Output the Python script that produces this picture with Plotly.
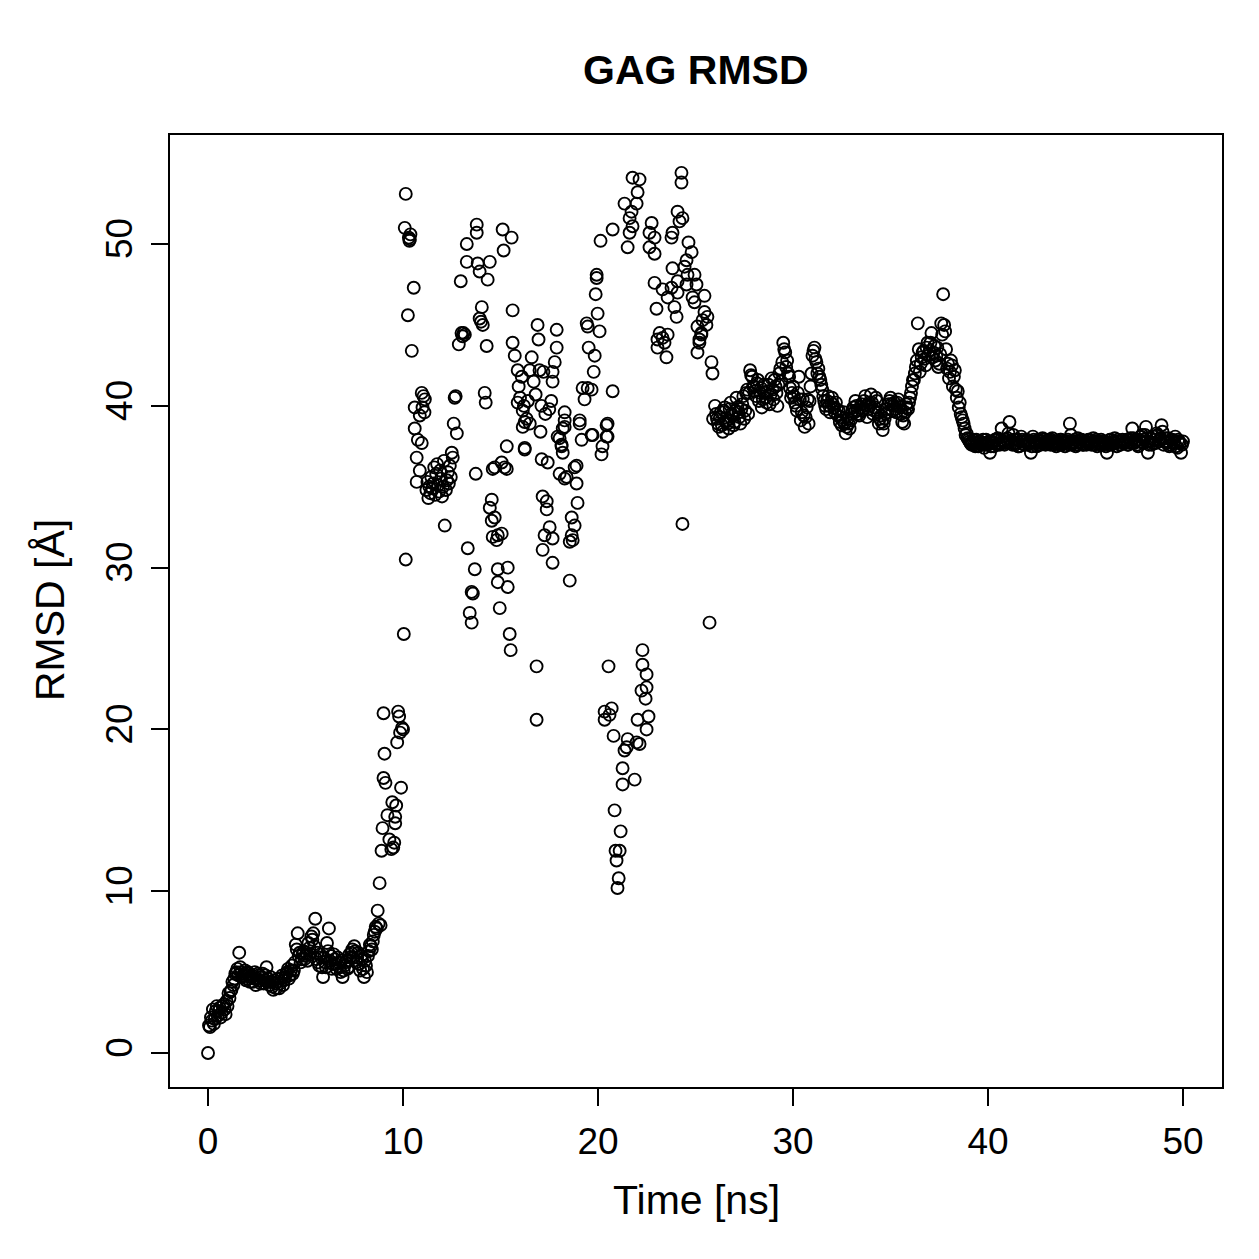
import numpy as np
import plotly.graph_objects as go

# ---- Data ----
# Segment 1: 0.0 .. 8.9 ns, frames on the 0.1 ns grid
seg1_rmsd = [
    0.0, 1.6, 2.0, 1.8, 2.6, 2.3, 2.8, 2.5, 3.0, 2.4,
    2.9, 3.4, 3.9, 4.2, 4.9, 5.2, 6.2, 5.0, 4.8, 5.1,
    4.6, 4.9, 4.7, 4.4, 5.0, 4.6, 4.8, 4.3, 4.9, 4.5,
    5.3, 4.4, 4.7, 4.1, 4.5, 4.0, 4.6, 4.3, 4.8, 4.5,
    4.9, 5.2, 4.8, 5.4, 5.1, 6.7, 7.4, 6.2, 5.8, 6.3,
    6.0, 5.7, 6.5, 7.2, 7.4, 8.3, 6.2, 5.4, 5.9, 4.7,
    5.6, 6.8, 7.7, 6.0, 5.5, 5.8, 5.2, 5.6, 5.0, 4.7,
    5.4, 5.7, 5.3, 5.9, 6.4, 6.6, 5.6, 6.2, 5.1, 5.8,
    4.7, 5.4, 6.0, 6.7, 6.4, 7.3, 7.8, 8.8, 10.5, 12.5,
]
seg1_time = [round(0.1 * i, 2) for i in range(len(seg1_rmsd))]

# Segment 1b: frames in between (0.05 .. 8.85 ns)
seg1b_rmsd = [
    1.7, 2.2, 2.7, 2.1, 2.9, 2.6, 2.2, 2.9, 2.7, 3.2,
    3.7, 3.8, 4.4, 4.6, 5.0, 4.8, 5.3, 4.7, 4.9, 4.5,
    5.0, 4.4, 4.8, 4.6, 4.2, 4.9, 4.5, 4.7, 4.3, 4.8,
    4.6, 4.2, 4.4, 3.9, 4.3, 4.4, 4.0, 4.6, 4.2, 4.7,
    5.0, 4.6, 5.1, 4.9, 5.6, 6.4, 6.0, 5.6, 6.1, 5.8,
    6.2, 6.8, 6.1, 7.0, 6.6, 5.8, 5.6, 6.1, 5.3, 5.9,
    5.3, 6.3, 5.7, 5.2, 6.1, 5.5, 5.9, 5.3, 5.7, 5.1,
    5.6, 5.2, 6.1, 6.2, 5.9, 6.3, 5.9, 5.5, 6.0, 5.2,
    5.7, 5.0, 6.3, 6.6, 6.9, 7.5, 7.7, 8.0, 7.9,
]
seg1b_time = [round(0.05 + 0.1 * i, 2) for i in range(len(seg1b_rmsd))]

# Segment 2: scattered region (explicit time / RMSD pairs)
seg2_time = [
    9.0, 9.05, 9.0, 9.1, 9.2, 9.3, 9.45, 9.5, 9.6, 9.6, 9.65, 9.7, 9.75, 9.8, 9.9, 9.95, 8.95, 9.4, 9.55, 9.85, 10.0,
    10.04, 10.14, 10.09, 10.14, 10.3, 10.35, 10.38, 10.33, 10.25, 10.45, 10.55, 10.6, 10.6, 10.76, 10.96, 10.7, 10.7,
    10.86, 10.96, 11.12, 11.0, 10.86, 11.05, 11.1,
    11.2, 11.25, 11.3, 11.35, 11.4, 11.45, 11.5, 11.55, 11.6, 11.65, 11.7, 11.75, 11.8, 11.85, 11.9, 11.95, 12.0,
    12.05, 12.1, 12.14, 12.2, 12.25, 12.3, 12.35, 12.4, 12.45, 12.5, 12.55, 12.6, 12.65, 12.7, 12.76, 12.86, 12.96,
    13.0, 13.05, 13.1, 13.17,
    13.27, 13.27, 13.32, 13.42, 13.52, 13.52, 13.58, 13.68, 13.73, 13.78, 13.78, 13.83, 13.93, 13.93, 14.04, 14.09,
    14.0, 14.19, 14.24, 14.29, 14.34, 14.45,
    14.45, 14.55, 14.6, 14.55, 14.7, 14.7, 14.6, 14.8, 14.86, 14.86, 14.86, 14.96, 15.06, 15.06, 15.11, 15.16, 15.21,
    15.32, 15.32, 15.37, 15.37,
    15.47, 15.52, 15.57, 15.62, 15.62, 15.73, 15.88, 16.09, 15.93, 15.88, 16.14, 16.34, 16.14, 16.24, 16.24, 16.24,
    16.0, 16.2, 16.4, 16.5,
    16.5, 16.6, 16.7, 16.8, 16.9, 16.95, 17.0, 17.05, 16.85, 16.85, 17.11, 17.16, 17.16, 17.26, 17.37, 17.37, 17.42,
    17.52, 17.67, 17.67, 17.1, 17.2, 17.3,
    17.88, 17.88, 17.78, 17.67, 17.67, 17.5, 17.6,
    18.03, 18.13, 18.19, 18.29, 18.29, 18.29, 18.19, 17.93, 18.13, 18.39, 18.03, 18.29, 18.8, 18.9, 18.9, 18.95,
    18.65, 18.8, 18.65, 18.55, 18.7, 18.55, 19.06, 19.06, 19.16,
    19.21, 19.31, 19.47, 19.67, 19.42, 19.47, 19.52, 19.67, 19.72, 19.78, 19.83, 19.88, 19.93, 19.93, 19.98, 20.08,
    20.13, 20.18, 20.23, 20.44, 20.44, 20.49, 20.49, 20.34, 20.34, 20.54, 20.59, 20.7, 20.75, 20.75, 20.8, 20.85,
    20.9, 20.95, 21.0, 21.06, 21.11, 21.16,
    21.26, 21.26, 21.36, 21.47, 21.52, 21.36, 21.52, 21.62, 21.62, 21.72, 21.77, 21.77, 21.88, 21.98, 21.98, 22.03,
    22.03, 22.13, 22.13, 22.23, 22.28, 22.28, 22.44, 22.49, 22.49, 22.49, 22.59, 22.64, 22.64, 22.75, 22.9, 22.9,
    22.9,
    23.0, 23.05, 23.05, 23.16, 23.31, 23.31, 23.41, 23.51, 23.57, 23.57, 23.77, 23.77, 23.82, 23.82, 23.92, 24.03,
    24.08, 24.08, 24.08, 24.18, 24.28, 24.28, 24.33, 24.33, 24.44, 24.54, 24.54, 24.59, 24.64, 24.8, 24.85, 24.95,
    24.95,
    25.05, 25.1, 25.1, 25.2, 25.2, 25.3, 25.3, 25.36, 25.46, 25.46, 25.56, 25.61, 25.72, 25.82, 25.87, 25.9,
]
seg2_rmsd = [
    21.0, 18.5, 17.0, 16.7, 14.7, 13.2, 15.5, 12.7, 14.6, 14.2, 15.3, 19.2, 21.1, 20.8, 16.4, 20.1, 13.9, 12.6, 13.0, 19.8, 20.0,
    25.9, 30.5, 51.0, 53.1, 50.4, 50.3, 50.6, 50.2, 45.6, 43.4, 47.3, 39.9, 38.6, 37.9, 37.7, 36.8, 35.3,
    36.0, 40.8, 40.4, 39.9, 39.4, 40.6, 39.6,
    34.8, 35.3, 34.3, 35.0, 34.6, 35.6, 34.9, 35.2, 36.2, 34.5, 35.8, 36.4, 35.1, 34.7, 36.0, 35.5, 34.4,
    35.0, 36.6, 32.6, 34.8, 35.4, 35.9, 35.2, 36.3, 35.6, 37.1, 36.8, 38.9, 40.5, 40.6, 38.3, 43.8, 47.7,
    44.5, 44.3, 44.5, 44.4,
    50.0, 48.9, 31.2, 27.2, 26.6, 28.5, 28.4, 29.9, 35.8, 51.2, 50.7, 48.8, 48.3, 45.4, 46.1, 45.0,
    45.2, 40.8, 40.2, 43.7, 47.8, 48.9,
    33.7, 34.2, 31.9, 32.9, 33.1, 36.2, 36.1, 31.7, 32.0, 29.9, 29.1, 27.5, 32.1, 36.5, 50.9, 49.6, 36.2,
    36.1, 37.5, 30.0, 28.8,
    25.9, 24.9, 50.4, 45.9, 43.9, 43.1, 42.2, 41.8, 41.2, 40.2, 39.7, 39.2, 38.7, 37.4, 37.3, 39.0,
    40.5, 40.0, 40.3, 38.9,
    42.2, 43.0, 41.5, 40.7, 45.0, 44.1, 42.2, 38.4, 23.9, 20.6, 36.7, 34.4, 31.1, 32.0, 34.1, 33.6, 36.5,
    32.5, 31.8, 30.3, 40.0, 42.1, 39.5,
    44.7, 43.6, 42.7, 42.1, 41.5, 39.8, 40.3,
    38.0, 37.5, 37.1, 38.7, 39.1, 39.6, 38.6, 38.1, 37.6, 35.6, 35.8, 35.5, 36.2, 35.2, 36.3, 34.0,
    33.1, 32.6, 32.0, 31.6, 31.7, 29.2, 39.1, 38.9, 37.9,
    41.1, 40.4, 41.1, 41.0, 45.1, 44.9, 43.6, 38.2, 38.2, 42.1, 43.1, 46.9, 48.1, 47.9, 45.7, 44.6,
    50.2, 37.0, 37.5, 38.1, 38.8, 38.9, 38.1, 21.1, 20.6, 23.9, 20.9, 21.3, 40.9, 50.9, 19.6, 15.0,
    12.5, 11.9, 10.2, 10.8, 12.5, 13.7,
    17.6, 16.6, 18.7, 18.9, 19.4, 52.5, 49.8, 50.7, 51.6, 52.0, 51.1, 54.1, 16.9, 19.2, 52.5, 53.2,
    20.6, 54.0, 19.1, 22.4, 24.9, 24.0, 21.9, 23.4, 22.6, 20.0, 20.8, 50.7, 49.8, 51.3, 50.4, 49.4,
    47.6,
    46.0, 44.1, 43.6, 44.5, 44.2, 47.2, 43.9, 43.0, 44.4, 46.7, 47.3, 50.4, 50.7, 48.5, 46.1, 45.5,
    47.7, 47.0, 52.0, 51.4, 54.4, 53.8, 51.6, 32.7, 48.6, 49.0, 47.5, 48.1, 50.1, 49.5, 46.7, 48.1,
    46.4,
    47.5, 43.3, 44.9, 44.1, 43.9, 44.5, 44.4, 45.3, 46.8, 45.8, 45.0, 45.5, 26.6, 42.7, 42.0, 39.2,
]

# Segment 3: 26.0 .. 50.0 ns, frames on the 0.1 ns grid
seg3_rmsd = [
    40.0, 39.2, 38.7, 39.6, 38.4, 39.9, 39.1, 38.6, 40.2, 39.4,
    39.0, 40.5, 39.6, 38.9, 40.1, 39.2, 40.8, 39.5, 42.2, 41.8,
    41.2, 40.6, 41.6, 40.8, 39.9, 41.3, 40.5, 40.9, 40.1, 41.7,
    40.4, 41.2, 40.0, 42.0, 41.5, 43.9, 43.3, 42.8, 41.8, 40.5,
    41.2, 40.2, 39.7, 41.8, 39.1, 40.4, 38.7, 39.9, 38.9, 41.2,
    43.1, 43.6, 42.7, 42.3, 41.6, 41.0, 40.3, 39.8, 40.6, 39.6,
    40.5, 39.9, 40.2, 39.4, 39.0, 38.8, 39.6, 38.3, 39.2, 38.6,
    39.5, 39.9, 40.3, 39.7, 39.4, 40.1, 39.8, 40.6, 39.3, 40.2,
    40.7, 39.5, 39.9, 40.3, 38.9, 39.4, 38.5, 39.2, 39.8, 40.1,
    40.5, 39.7, 40.2, 39.6, 40.4, 39.9, 39.0, 38.9, 40.1, 39.8,
    40.5, 41.2, 41.6, 42.4, 45.1, 42.1, 43.0, 43.4, 42.5, 43.9,
    43.4, 44.5, 43.3, 42.8, 43.6, 42.6, 45.1, 46.9, 44.6, 42.3,
    41.7, 42.8, 41.2, 42.2, 40.5, 39.9, 39.5, 39.1, 38.6, 38.3,
    37.9, 37.7, 37.8, 37.6, 37.9, 37.5, 37.8, 37.7, 37.4, 37.9,
    37.6, 37.1, 37.8, 37.5, 37.9, 38.0, 37.6, 38.6, 37.8, 37.7,
    38.0, 39.0, 37.7, 38.2, 37.6, 37.9, 37.5, 38.1, 37.8, 37.6,
    37.9, 37.7, 37.1, 38.1, 37.8, 37.5, 37.9, 37.6, 38.0, 37.7,
    37.8, 37.9, 37.6, 38.0, 37.7, 37.5, 37.8, 37.9, 37.6, 37.8,
    37.7, 37.9, 38.9, 37.6, 37.8, 37.5, 38.0, 37.7, 37.9, 37.6,
    37.8, 37.7, 37.9, 37.6, 38.0, 37.8, 37.5, 37.7, 37.9, 37.6,
    37.8, 37.1, 37.6, 37.9, 37.7, 38.0, 37.5, 37.8, 37.6, 37.9,
    37.7, 37.9, 37.6, 38.0, 38.6, 37.7, 37.9, 37.5, 37.8, 38.2,
    37.9, 38.7, 37.1, 37.8, 37.6, 38.1, 37.7, 38.2, 37.9, 38.8,
    37.6, 38.0, 37.8, 37.5, 37.9, 37.7, 38.1, 37.4, 37.8, 37.1,
    37.8,
]
seg3_time = [round(26.0 + 0.1 * i, 2) for i in range(len(seg3_rmsd))]

# Segment 3b: frames in between (26.05 .. 49.95 ns)
seg3b_rmsd = [
    39.5, 38.9, 39.3, 38.8, 39.7, 39.0, 38.9, 39.8, 39.5, 38.8,
    39.7, 39.9, 39.3, 39.8, 40.6, 39.7, 41.0, 40.8, 41.9, 41.2,
    40.9, 41.4, 40.3, 41.1, 40.4, 40.8, 40.2, 41.3, 40.7, 41.0,
    41.6, 40.8, 41.3, 42.3, 42.7, 43.5, 42.4, 42.0, 41.1, 40.8,
    40.6, 40.0, 40.8, 40.4, 39.6, 39.4, 39.3, 40.4, 40.3, 42.0,
    43.4, 42.9, 42.0, 41.8, 41.3, 40.6, 40.0, 40.3, 40.0, 40.2,
    40.1, 39.6, 39.8, 39.7, 39.3, 39.1, 38.9, 38.7, 38.9, 39.1,
    39.7, 39.6, 40.0, 39.5, 39.9, 39.7, 40.3, 40.0, 39.8, 40.0,
    40.2, 39.7, 40.5, 39.6, 39.2, 39.0, 38.9, 39.5, 39.6, 40.3,
    40.1, 40.0, 39.8, 40.2, 40.0, 39.5, 39.4, 39.6, 39.9, 40.2,
    40.8, 41.6, 42.0, 42.8, 43.5, 42.6, 43.3, 42.9, 43.6, 43.1,
    43.9, 43.0, 43.7, 43.1, 42.4, 43.2, 44.4, 45.0, 43.5, 42.6,
    42.1, 42.5, 41.8, 41.0, 40.9, 40.2, 39.3, 38.9, 38.2, 38.0,
    37.8, 37.6, 37.9, 37.5, 37.7, 37.8, 37.6, 37.9, 37.6, 37.7,
    37.8, 37.5, 37.7, 37.9, 37.6, 37.7, 37.9, 37.8, 37.6, 37.9,
    38.3, 37.8, 37.6, 37.9, 37.7, 37.5, 37.8, 37.9, 37.6, 37.8,
    37.6, 37.8, 37.5, 37.9, 37.7, 37.6, 37.8, 37.7, 37.9, 37.6,
    37.7, 37.8, 37.9, 37.6, 37.8, 37.7, 37.6, 37.9, 37.7, 37.5,
    37.8, 37.6, 38.2, 37.7, 37.9, 37.6, 37.8, 37.9, 37.6, 37.8,
    37.6, 37.9, 37.7, 37.8, 37.6, 37.9, 37.7, 37.6, 37.8, 37.7,
    37.5, 37.7, 37.9, 37.6, 37.8, 37.7, 37.9, 37.6, 37.8, 37.7,
    37.8, 37.6, 37.9, 37.7, 38.0, 37.8, 37.6, 37.9, 38.1, 37.7,
    38.2, 37.8, 37.6, 38.0, 37.7, 37.9, 38.3, 37.8, 38.0, 38.4,
    37.8, 37.7, 38.0, 37.6, 37.9, 37.8, 37.5, 37.9, 37.7, 37.6,
]
seg3b_time = [round(26.05 + 0.1 * i, 2) for i in range(len(seg3b_rmsd))]

time_ns = seg1_time + seg1b_time + seg2_time + seg3_time + seg3b_time
rmsd_A = seg1_rmsd + seg1b_rmsd + seg2_rmsd + seg3_rmsd + seg3b_rmsd

x_ticks = [0, 10, 20, 30, 40, 50]
y_ticks = [0, 10, 20, 30, 40, 50]

FONT = "Liberation Sans, Arial, Helvetica, sans-serif"

fig = go.Figure()
fig.add_trace(go.Scatter(
    x=time_ns, y=rmsd_A, mode="markers",
    marker=dict(symbol="circle-open", size=12, color="black",
                line=dict(color="black", width=1.9)),
    showlegend=False, hoverinfo="skip",
))

axis_common = dict(
    showgrid=False, zeroline=False, showline=True, linecolor="black",
    linewidth=2, mirror=True, ticks="outside", ticklen=17, tickwidth=2,
    tickcolor="black", tickfont=dict(family=FONT, size=37, color="black"),
)
fig.update_xaxes(range=[-1.95, 52.0], tickvals=x_ticks,
                 ticktext=[str(v) for v in x_ticks], ticklabelstandoff=4,
                 **axis_common)
fig.update_yaxes(range=[-2.1, 56.74], tickvals=y_ticks,
                 ticktext=[str(v) for v in y_ticks], tickangle=-90,
                 ticklabelstandoff=4, **axis_common)

fig.update_layout(
    width=1259, height=1259,
    margin=dict(l=170, r=37, t=135, b=172),
    paper_bgcolor="white", plot_bgcolor="white",
    font=dict(family=FONT, color="black"),
    annotations=[
        dict(text="<b>GAG RMSD</b>", xref="paper", yref="paper", x=0.5,
             y=(1087 - 70) / 952, xanchor="center", yanchor="middle",
             showarrow=False, font=dict(family=FONT, size=41, color="black")),
        dict(text="Time [ns]", xref="paper", yref="paper", x=0.5,
             y=(1087 - 1200) / 952, xanchor="center", yanchor="middle",
             showarrow=False, font=dict(family=FONT, size=41, color="black")),
        dict(text="RMSD [Å]", xref="paper", yref="paper",
             x=(50 - 170) / 1052, y=(1087 - 610) / 952, textangle=-90,
             xanchor="center", yanchor="middle",
             showarrow=False, font=dict(family=FONT, size=41, color="black")),
    ],
)

fig.write_html("out.html", config={"displayModeBar": False})
